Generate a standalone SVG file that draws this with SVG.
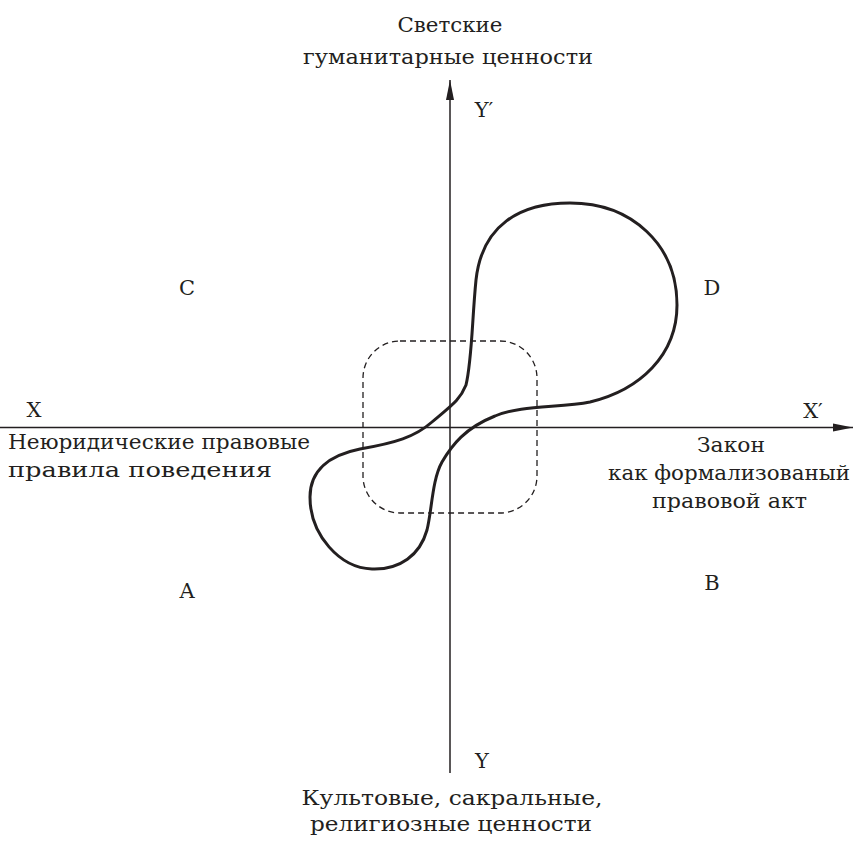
<svg xmlns="http://www.w3.org/2000/svg" width="859" height="842" viewBox="0 0 859 842">
<style>
text{font-family:"DejaVu Serif","Liberation Serif",serif;font-size:21px;fill:#231f20}
.c{text-anchor:middle}
.r{text-anchor:end}
.axis{stroke:#231f20;stroke-width:1.5;fill:none}
</style>
<defs>
<marker id="ah" markerUnits="userSpaceOnUse" markerWidth="22" markerHeight="10" refX="20" refY="4.5" orient="auto" viewBox="0 0 22 9">
<path d="M0,0.5 L20,4.5 L0,8.5 Z" fill="#231f20"/>
</marker>
</defs>
<rect width="859" height="842" fill="#fff"/>
<g id="connectors">
<line class="axis" x1="0" y1="427.5" x2="853" y2="427.5" marker-end="url(#ah)"/>
<line class="axis" x1="450" y1="773" x2="450" y2="80" marker-end="url(#ah)"/>
</g>
<g id="zone">
<rect x="363" y="341" width="174" height="172" rx="37" ry="37" fill="none" stroke="#231f20" stroke-width="1.3" stroke-dasharray="6 4"/>
</g>
<g id="curve">
<path d="M466,385 C472,360 472,320 476,280 C482,225 520,203 570,203 C632,203 677,245 677,305 C677,355 640,390 590,402 C560,408 520,405 495,416 C465,428 452,445 442,462 C432,480 432,510 427,530 C420,555 400,570 372,569 C340,568 310,535 310,497 C310,470 330,455 360,449 C395,443 415,437 432,422 C452,405 460,400 466,385 Z" fill="none" stroke="#231f20" stroke-width="3"/>
</g>
<g id="top-label">
<text class="c" x="450" y="32" textLength="105" lengthAdjust="spacingAndGlyphs">Светские</text>
<text class="c" x="448" y="64" textLength="290" lengthAdjust="spacingAndGlyphs">гуманитарные  ценности</text>
</g>
<g id="bottom-label">
<text class="c" x="452" y="805" textLength="301" lengthAdjust="spacingAndGlyphs">Культовые, сакральные,</text>
<text class="c" x="451" y="831" textLength="282" lengthAdjust="spacingAndGlyphs">религиозные ценности</text>
</g>
<g id="left-label">
<text x="8" y="449" textLength="302" lengthAdjust="spacingAndGlyphs">Неюридические правовые</text>
<text x="8" y="477" textLength="264" lengthAdjust="spacingAndGlyphs">правила поведения</text>
</g>
<g id="right-label">
<text class="c" x="731" y="452" textLength="68" lengthAdjust="spacingAndGlyphs">Закон</text>
<text x="608" y="480" textLength="242" lengthAdjust="spacingAndGlyphs">как формализованый</text>
<text x="652" y="508" textLength="155" lengthAdjust="spacingAndGlyphs">правовой акт</text>
</g>
<g id="axis-labels">
<text class="c" x="484" y="117">Y′</text>
<text class="c" x="482" y="768">Y</text>
<text class="c" x="34" y="417">X</text>
<text class="c" x="813" y="418">X′</text>
</g>
<g id="quadrants">
<text class="c" x="187" y="295">C</text>
<text class="c" x="712" y="295">D</text>
<text class="c" x="187" y="598">A</text>
<text class="c" x="712" y="590">B</text>
</g>
</svg>
